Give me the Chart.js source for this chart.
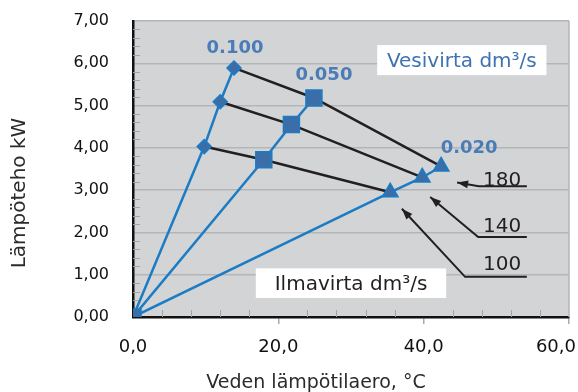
<!DOCTYPE html>
<html>
<head>
<meta charset="utf-8">
<script src="https://cdn.jsdelivr.net/npm/chart.js@4"></script>
<style>
  html, body { margin: 0; padding: 0; background: #fff; }
</style>
</head>
<body>
<canvas id="heatChart" width="578" height="392"></canvas>
<script>
const FONT = '"DejaVu Sans", sans-serif';

// water flow per series, dm3/s
const waterFlows = ['0.100', '0.050', '0.020'];
// air flow, dm3/s: point 1, 2 and 3 of every water series
const airFlows = ['100', '140', '180'];

// water temperature difference, °C (first point is the origin)
const dt100 = [0, 9.8, 12.0, 13.9];
const dt050 = [0, 18.0, 21.8, 24.9];
const dt020 = [0, 35.4, 39.8, 42.4];
// heat output, kW
const kw100 = [0, 4.03, 5.09, 5.89];
const kw050 = [0, 3.72, 4.55, 5.18];
const kw020 = [0, 2.95, 3.30, 3.56];

const xTicks = [0, 20, 40, 60];
const yTicks = [0, 1, 2, 3, 4, 5, 6, 7];

const BLUE = '#1b7cc4';
const MARKER = '#3b6ea8';
const LABEL_BLUE = '#4a7cb6';
const INK = '#231f20';

const toPoints = (xs, ys) => xs.map((x, i) => ({ x: x, y: ys[i] }));

const water = [
  { flow: waterFlows[0], xs: dt100, ys: kw100, style: 'rectRot', r: 7, order: 1, labelOff: [1, -21] },
  { flow: waterFlows[1], xs: dt050, ys: kw050, style: 'rect', r: 11.3, order: 0, labelOff: [10, -24] },
  { flow: waterFlows[2], xs: dt020, ys: kw020, style: 'triangle', r: 9, order: 1, labelOff: [28, -20] }
];

const waterSets = water.map(w => ({
  label: w.flow,
  data: toPoints(w.xs, w.ys),
  showLine: true,
  borderColor: BLUE,
  borderWidth: 2.5,
  pointStyle: w.style,
  // only the square is drawn at the origin
  pointRadius: w.xs.map((x, i) => (i === 0 && w.style !== 'rect') ? 0 : w.r),
  pointBackgroundColor: MARKER,
  pointBorderColor: BLUE,
  pointBorderWidth: 1.5,
  order: w.order
}));

// black lines join the points with the same air flow
const airSets = airFlows.map((flow, k) => ({
  label: flow,
  data: water.map(w => ({ x: w.xs[k + 1], y: w.ys[k + 1] })),
  showLine: true,
  borderColor: INK,
  borderWidth: 2.5,
  pointRadius: 0,
  order: 2
}));

// leader lines for the air flow labels (data units)
const leaders = [
  { text: airFlows[2], tip: [44.6, 3.18], elbow: [47.6, 3.09], end: [54.2, 3.09], at: [50.8, 3.28] },
  { text: airFlows[1], tip: [40.9, 2.84], elbow: [47.5, 1.89], end: [54.2, 1.89], at: [50.8, 2.17] },
  { text: airFlows[0], tip: [37.0, 2.56], elbow: [45.7, 0.95], end: [54.2, 0.95], at: [50.8, 1.27] }
];

const boxes = [
  { text: 'Vesivirta dm³/s', color: '#3e73b0', x0: 33.6, x1: 56.9, y0: 6.43, y1: 5.72 },
  { text: 'Ilmavirta dm³/s', color: INK, x0: 16.9, x1: 43.1, y0: 1.15, y1: 0.45 }
];

// text placed by the centre of its capitals
function capText(ctx, text, x, y, size, weight, color, align) {
  ctx.font = (weight || 'normal') + ' ' + size + 'px ' + FONT;
  ctx.fillStyle = color;
  ctx.textAlign = align || 'center';
  ctx.textBaseline = 'alphabetic';
  ctx.fillText(text, x, y + 0.36 * size);
}

const plotDecor = {
  id: 'plotDecor',
  beforeDraw(chart) {
    const { ctx, chartArea: a } = chart;
    ctx.save();
    ctx.fillStyle = '#d3d4d6';
    ctx.fillRect(a.left, a.top, a.right - a.left, a.bottom - a.top);
    ctx.restore();
  },
  beforeDatasetsDraw(chart) {
    const { ctx, chartArea: a, scales: { x, y } } = chart;
    ctx.save();
    // right frame
    ctx.strokeStyle = '#b4b5b7';
    ctx.lineWidth = 1.5;
    ctx.beginPath();
    ctx.moveTo(a.right, a.top);
    ctx.lineTo(a.right, a.bottom);
    ctx.stroke();
    // minor ticks inside the plot
    ctx.strokeStyle = '#a3a4a6';
    ctx.lineWidth = 1;
    ctx.beginPath();
    for (let v = 0.2; v < 7; v += 0.2) {
      if (Math.abs(v - Math.round(v)) < 0.01) continue;
      const py = Math.round(y.getPixelForValue(v)) + 0.5;
      ctx.moveTo(a.left, py);
      ctx.lineTo(a.left + 7, py);
    }
    for (let v = 4; v < 60; v += 4) {
      if (v % 20 === 0) continue;
      const px = Math.round(x.getPixelForValue(v)) + 0.5;
      ctx.moveTo(px, a.bottom);
      ctx.lineTo(px, a.bottom - 7);
    }
    ctx.stroke();
    // legend boxes
    boxes.forEach(b => {
      const l = x.getPixelForValue(b.x0), r = x.getPixelForValue(b.x1);
      const t = y.getPixelForValue(b.y0), btm = y.getPixelForValue(b.y1);
      ctx.fillStyle = '#fff';
      ctx.fillRect(l, t, r - l, btm - t);
      capText(ctx, b.text, (l + r) / 2, (t + btm) / 2, 20, 'normal', b.color);
    });
    ctx.restore();
  },
  afterDatasetsDraw(chart) {
    const { ctx, scales: { x, y } } = chart;
    const px = p => [x.getPixelForValue(p[0]), y.getPixelForValue(p[1])];
    ctx.save();
    // water flow labels above the last point of each series
    water.forEach(w => {
      const n = w.xs.length - 1;
      const [cx, cy] = px([w.xs[n], w.ys[n]]);
      capText(ctx, w.flow, cx + w.labelOff[0], cy + w.labelOff[1], 18, 'bold', LABEL_BLUE);
    });
    // air flow leaders
    leaders.forEach(d => {
      const tip = px(d.tip), elbow = px(d.elbow), end = px(d.end);
      ctx.strokeStyle = INK;
      ctx.lineWidth = 2;
      ctx.beginPath();
      ctx.moveTo(end[0], end[1]);
      ctx.lineTo(elbow[0], elbow[1]);
      ctx.lineTo(tip[0], tip[1]);
      ctx.stroke();
      const ang = Math.atan2(tip[1] - elbow[1], tip[0] - elbow[0]);
      ctx.fillStyle = INK;
      ctx.beginPath();
      ctx.moveTo(tip[0], tip[1]);
      ctx.lineTo(tip[0] - 11 * Math.cos(ang) + 4 * Math.sin(ang), tip[1] - 11 * Math.sin(ang) - 4 * Math.cos(ang));
      ctx.lineTo(tip[0] - 11 * Math.cos(ang) - 4 * Math.sin(ang), tip[1] - 11 * Math.sin(ang) + 4 * Math.cos(ang));
      ctx.closePath();
      ctx.fill();
      const at = px(d.at);
      capText(ctx, d.text, at[0], at[1], 20, 'normal', INK);
    });
    ctx.restore();
  },
  afterDraw(chart) {
    const { ctx, scales: { x } } = chart;
    ctx.save();
    // x tick labels, kept inside the canvas
    ctx.font = '18px ' + FONT;
    xTicks.forEach(v => {
      const s = v.toFixed(1).replace('.', ',');
      const w = ctx.measureText(s).width;
      const cx = Math.min(x.getPixelForValue(v), chart.width - 2 - w / 2);
      capText(ctx, s, cx, 345.5, 18, 'normal', '#111');
    });
    // axis titles
    capText(ctx, 'Veden lämpötilaero, °C', 316, 381, 19, 'normal', '#2b2b2b');
    ctx.translate(17.5, 193);
    ctx.rotate(-Math.PI / 2);
    capText(ctx, 'Lämpöteho kW', 0, 0, 20, 'normal', '#2b2b2b');
    ctx.restore();
  }
};

new Chart(document.getElementById('heatChart').getContext('2d'), {
  type: 'scatter',
  data: { datasets: waterSets.concat(airSets) },
  options: {
    responsive: false,
    animation: false,
    layout: { autoPadding: false, padding: { top: 21, right: 9, left: 0, bottom: 0 } },
    scales: {
      x: {
        type: 'linear',
        min: 0,
        max: 60,
        afterBuildTicks: s => { s.ticks = xTicks.map(v => ({ value: v })); },
        afterFit: s => { s.height = 75; s.paddingLeft = 0; s.paddingRight = 0; },
        grid: {
          drawOnChartArea: false,
          drawTicks: true,
          tickLength: 7,
          lineWidth: 1.5,
          color: c => (c.tick && c.tick.value === 0) ? 'rgba(0,0,0,0)' : '#a9aaac'
        },
        border: { color: '#111', width: 2.5 },
        ticks: { display: false }
      },
      y: {
        type: 'linear',
        min: 0,
        max: 7,
        afterBuildTicks: s => { s.ticks = yTicks.map(v => ({ value: v })); },
        afterFit: s => { s.width = 133; s.paddingTop = 0; s.paddingBottom = 0; },
        grid: {
          drawTicks: false,
          lineWidth: 1.5,
          color: c => (c.tick && c.tick.value === 0) ? 'rgba(0,0,0,0)' : '#b4b5b7'
        },
        border: { color: '#111', width: 2.5 },
        ticks: {
          padding: 24,
          color: '#111',
          font: { family: FONT, size: 16 },
          callback: v => v.toFixed(2).replace('.', ',')
        }
      }
    },
    plugins: {
      legend: { display: false },
      tooltip: { enabled: false }
    }
  },
  plugins: [plotDecor]
});
</script>
</body>
</html>
